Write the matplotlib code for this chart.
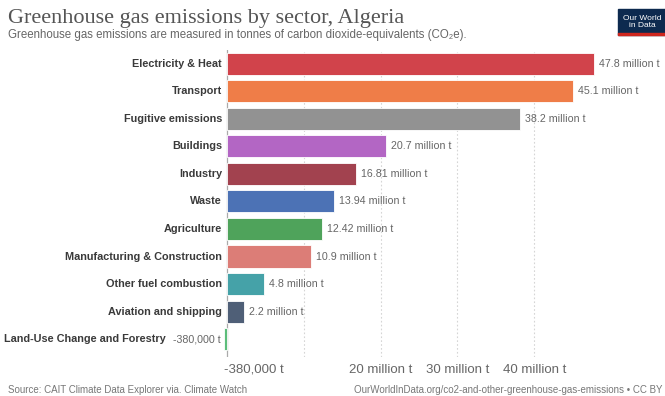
import matplotlib
matplotlib.use("Agg")
import matplotlib.pyplot as plt
from matplotlib.patches import Rectangle

plt.rcParams["font.family"] = ["Liberation Sans", "DejaVu Sans"]

sectors = ["Electricity & Heat", "Transport", "Fugitive emissions", "Buildings",
           "Industry", "Waste", "Agriculture", "Manufacturing & Construction",
           "Other fuel combustion", "Aviation and shipping",
           "Land-Use Change and Forestry"]
values = [47.8, 45.1, 38.2, 20.7, 16.81, 13.94, 12.42, 10.9, 4.8, 2.2, -0.38]
value_labels = ["47.8 million t", "45.1 million t", "38.2 million t",
                "20.7 million t", "16.81 million t", "13.94 million t",
                "12.42 million t", "10.9 million t", "4.8 million t",
                "2.2 million t", "-380,000 t"]
colors = ["#d1434b", "#ef7d48", "#929292", "#b366c4", "#a2424f", "#4c72b5",
          "#4fa35b", "#dc7d77", "#45a2a8", "#4f5f77", "#5cbd7a"]
tick_vals = [-0.38, 10, 20, 30, 40]
tick_labels = ["-380,000 t", "", "20 million t", "30 million t", "40 million t"]

W, H = 665, 396
fig = plt.figure(figsize=(W / 100, H / 100), dpi=100)

# axes placed in pixel terms: zero at x~227, 7.68 px per million t
x0, x1 = -0.5, 56.0
left_px = 227 - 0.5 * 7.68
width_px = (x1 - x0) * 7.68
top_px, bot_px = 50, 357
ax = fig.add_axes([left_px / W, 1 - bot_px / H, width_px / W, (bot_px - top_px) / H])
ax.set_xlim(x0, x1)
ax.set_ylim(10.65, -0.5)

y = list(range(len(sectors)))
ax.barh(y, values, height=0.8, color=colors, edgecolor="white", linewidth=0.6, zorder=3)

for i, (v, lab, name) in enumerate(zip(values, value_labels, sectors)):
    if v >= 0:
        ax.annotate(lab, xy=(v, i), xytext=(5, 0), textcoords="offset pixels",
                    ha="left", va="center", fontsize=7.7, color="#666666")
        ax.annotate(name, xy=(0, i), xytext=(-5, 0), textcoords="offset pixels",
                    ha="right", va="center", fontsize=7.8, fontweight="bold",
                    color="#3a3a3a")
    else:
        ax.annotate(lab, xy=(v, i), xytext=(-3, 0), textcoords="offset pixels",
                    ha="right", va="center", fontsize=7.7, color="#666666")
        ax.annotate(name, xy=(v, i), xytext=(-58, 0), textcoords="offset pixels",
                    ha="right", va="center", fontsize=7.8, fontweight="bold",
                    color="#3a3a3a")

ax.set_xticks(tick_vals)
ax.set_xticklabels(tick_labels, fontsize=9.5, color="#666666")
ax.get_xticklabels()[0].set_horizontalalignment("left")
ax.tick_params(axis="x", length=0, pad=5)
ax.set_yticks([])
ax.grid(axis="x", linestyle=(0, (1.5, 2)), color="#d5d5d5", linewidth=0.8, zorder=0)
ax.xaxis.get_gridlines()[0].set_visible(False)
ax.axvline(0, color="#aaaaaa", linewidth=0.9, zorder=2)
for s in ax.spines.values():
    s.set_visible(False)

fig.text(8 / W, 1 - 18 / H, "Greenhouse gas emissions by sector, Algeria",
         family="Liberation Serif", fontsize=16, color="#555555", va="center")
fig.text(8 / W, 1 - 35 / H,
         "Greenhouse gas emissions are measured in tonnes of carbon dioxide-equivalents (CO\u2082e).",
         fontsize=8.3, color="#666666", va="center")
fig.text(8 / W, 1 - 390 / H, "Source: CAIT Climate Data Explorer via. Climate Watch",
         fontsize=7, color="#777777", va="center")
fig.text(663 / W, 1 - 390 / H,
         "OurWorldInData.org/co2-and-other-greenhouse-gas-emissions \u2022 CC BY",
         fontsize=7, color="#777777", va="center", ha="right")

# logo
fig.add_artist(Rectangle((618 / W, 1 - 35 / H), 60 / W, 26 / H,
                         transform=fig.transFigure, color="#0d2a4f", zorder=5))
fig.add_artist(Rectangle((618 / W, 1 - 35 / H), 60 / W, 2.5 / H,
                         transform=fig.transFigure, color="#ce261e", zorder=6))
fig.text(642 / W, 1 - 22 / H, "Our World\nin Data", fontsize=6, color="white",
         ha="center", va="center", linespacing=1.0, zorder=7)

fig.savefig("out.png", dpi=100)
